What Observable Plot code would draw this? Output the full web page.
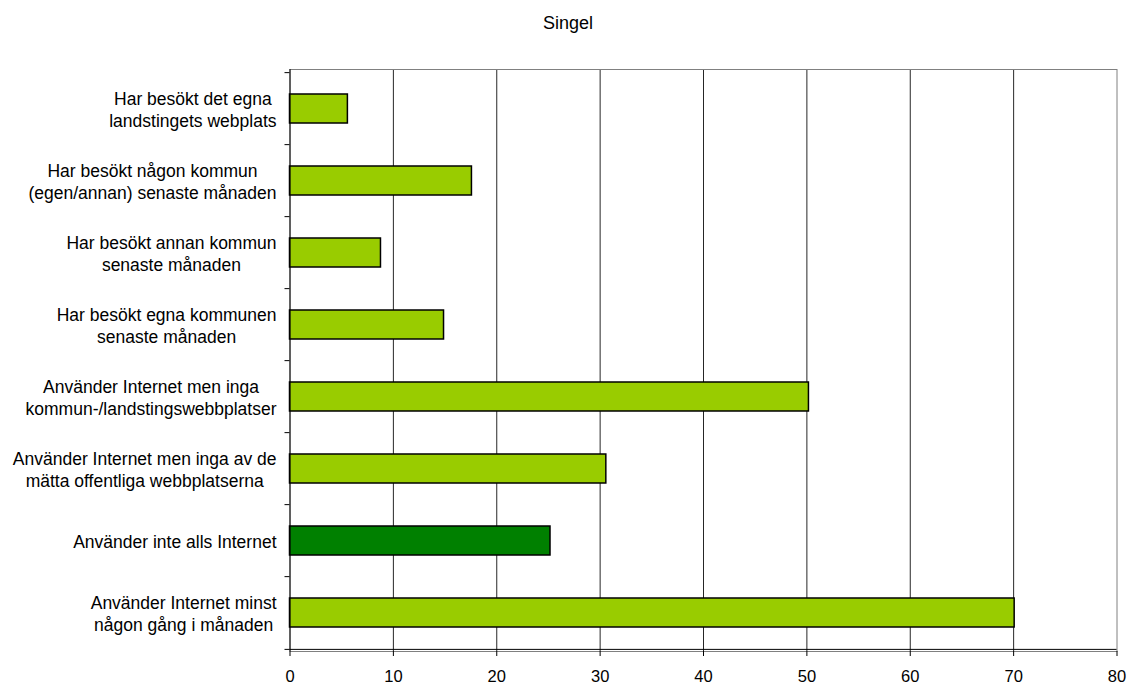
<!DOCTYPE html>
<html><head><meta charset="utf-8">
<script src="https://cdn.jsdelivr.net/npm/d3@7"></script>
<script src="https://cdn.jsdelivr.net/npm/@observablehq/plot@0.6"></script>
<style>
body{margin:0;background:#fff;font-family:"Liberation Sans",Arial,sans-serif;}
#title{height:50px;box-sizing:border-box;padding-top:14px;padding-left:7px;text-align:center;font-size:18px;line-height:18px;color:#000;}
#chart svg{display:block;}
</style></head><body>
<div id="title">Singel</div>
<div id="chart"></div>
<script>
const categories = [
  "Har besökt det egna\nlandstingets webplats",
  "Har besökt någon kommun\n(egen/annan) senaste månaden",
  "Har besökt annan kommun\nsenaste månaden",
  "Har besökt egna kommunen\nsenaste månaden",
  "Använder Internet men inga\nkommun-/landstingswebbplatser",
  "Använder Internet men inga av de\nmätta offentliga webbplatserna",
  "Använder inte alls Internet",
  "Använder Internet minst\nnågon gång i månaden"
];
const values = [5.6, 17.6, 8.8, 14.9, 50.2, 30.6, 25.2, 70.1];
const kinds = ["användare", "användare", "användare", "användare", "användare", "användare", "icke-användare", "användare"];
const xTicks = [0, 10, 20, 30, 40, 50, 60, 70, 80];

const data = categories.map((c, i) => ({category: c, value: values[i], kind: kinds[i]}));

const width = 1129, height = 634, mt = 19, mb = 33, ml = 289.5, mr = 12.5;
const step = (height - mt - mb) / categories.length;
const labelFont = 17.5;
const gap = 13.5;
const ctx = document.createElement("canvas").getContext("2d");
ctx.font = `${labelFont}px "Liberation Sans"`;
const blockWidth = c => d3.max(c.split("\n"), l => ctx.measureText(l).width);
const lastCat = categories[categories.length - 1];

const chart = Plot.plot({
  width, height,
  marginTop: mt, marginBottom: mb, marginLeft: ml, marginRight: mr,
  style: {fontFamily: '"Liberation Sans", Arial, sans-serif', fontSize: "16.5px", color: "#000", background: "#fff"},
  x: {domain: [0, 80], label: null, axis: null},
  y: {domain: categories, paddingInner: 0.6, paddingOuter: 0.3, align: 0.5, label: null, axis: null},
  color: {domain: ["användare", "icke-användare"], range: ["#99CC00", "#008000"]},
  marks: [
    Plot.gridX(xTicks.slice(1, -1), {stroke: "#000", strokeOpacity: 0.85}),
    Plot.frame({stroke: "#808080"}),
    Plot.barX(data, {y: "category", x: "value", fill: "kind", stroke: "#000", strokeWidth: 1.5}),
    Plot.ruleX([0], {stroke: "#000"}),
    Plot.ruleY([lastCat], {dy: step / 2, stroke: "#000"}),
    Plot.axisX(xTicks, {tickSize: 5, tickPadding: 14, stroke: "#000", label: null, fontSize: 16.5}),
    Plot.axisY({tickSize: 5, tickFormat: () => "", dy: -step / 2, stroke: "#000", label: null}),
    Plot.axisY([lastCat], {tickSize: 5, tickFormat: () => "", dy: step / 2, stroke: "#000", label: null}),
    ...categories.map(c => Plot.text([c], {
      y: d => d, frameAnchor: "left", textAnchor: "middle",
      dx: -(gap + blockWidth(c) / 2), lineHeight: 22 / labelFont, fontSize: labelFont, fill: "#000"
    }))
  ]
});
document.getElementById("chart").appendChild(chart);
</script>
</body></html>
